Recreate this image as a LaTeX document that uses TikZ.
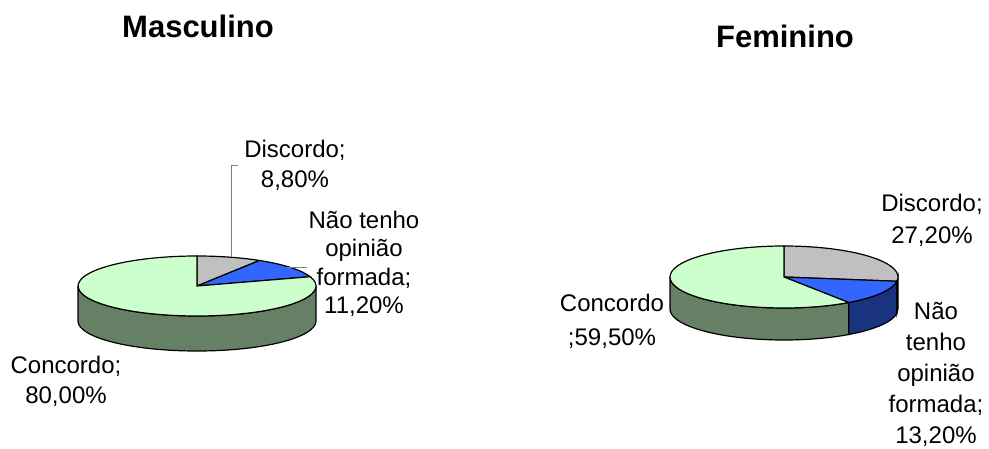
\documentclass[tikz,border=0pt]{standalone}
\usepackage{fontspec}
\setmainfont{Liberation Sans}
\usepackage{tikz}
\usetikzlibrary{calc}
\definecolor{topGreen}{HTML}{CCFFCC}
\definecolor{sideGreen}{HTML}{668066}
\definecolor{topBlue}{HTML}{3366FF}
\definecolor{sideBlue}{HTML}{1A3380}
\definecolor{topGray}{HTML}{C0C0C0}
\definecolor{sideGray}{HTML}{606060}

\begin{document}
\begin{tikzpicture}[x=1pt,y=1pt]
\def\cEdge{black}
\def\cLead{gray}
\def\lw{1.2pt}
\tikzset{lbl/.style={align=center,inner sep=0pt,font=\fontsize{24}{30}\selectfont},
         ttl/.style={anchor=base,inner sep=0pt,font=\fontsize{31}{36}\selectfont\bfseries}}
\useasboundingbox (0,0) rectangle (989,448);
% Masculino
\def\rx{119}
\def\ry{30}
\def\d{35}
\coordinate (LO) at (197,162);
\filldraw[fill=sideGreen, draw=\cEdge, line width=\lw] ($(LO)+({\rx*cos(180)},{\ry*sin(180)})$) arc[start angle=180, end angle=360, x radius=\rx pt, y radius=\ry pt] -- ++(0,-\d) arc[start angle=360, end angle=180, x radius=\rx pt, y radius=\ry pt] -- cycle;
\filldraw[fill=topGray, draw=\cEdge, line width=\lw] (LO) -- ($(LO)+({\rx*cos(90)},{\ry*sin(90)})$) arc[start angle=90, end angle=58.3, x radius=\rx pt, y radius=\ry pt] -- cycle;
\filldraw[fill=topBlue, draw=\cEdge, line width=\lw] (LO) -- ($(LO)+({\rx*cos(58.3)},{\ry*sin(58.3)})$) arc[start angle=58.3, end angle=18, x radius=\rx pt, y radius=\ry pt] -- cycle;
\filldraw[fill=topGreen, draw=\cEdge, line width=\lw] (LO) -- ($(LO)+({\rx*cos(18)},{\ry*sin(18)})$) arc[start angle=18, end angle=-270, x radius=\rx pt, y radius=\ry pt] -- cycle;
\node[ttl] (tA) at (198,410) {Masculino};
\node[lbl] (discA) at (295,283) {Discordo;\\8,80\%};
\node[lbl, font=\fontsize{24}{28.5}\selectfont] (naoA) at (364,184) {Não tenho\\opinião\\formada;\\11,20\%};
\node[lbl] (conA) at (66,67) {Concordo;\\80,00\%};
\coordinate (dA) at (238,283);
\coordinate (dAtip) at (231,191);
\draw[\cLead, line width=0.8pt] (dA) -| (dAtip);
\coordinate (nA) at (307,181);
\coordinate (nAtip) at (287,181);
\draw[\cLead, line width=0.8pt] (nA) -- (nAtip);
% Feminino
\def\rx{114}
\def\ry{31}
\def\d{32}
\coordinate (RO) at (784,171);
\filldraw[fill=sideGreen, draw=\cEdge, line width=\lw] ($(RO)+({\rx*cos(180)},{\ry*sin(180)})$) arc[start angle=180, end angle=304.6, x radius=\rx pt, y radius=\ry pt] -- ++(0,-\d) arc[start angle=304.6, end angle=180, x radius=\rx pt, y radius=\ry pt] -- cycle;
\filldraw[fill=sideBlue, draw=\cEdge, line width=\lw] ($(RO)+({\rx*cos(304.6)},{\ry*sin(304.6)})$) arc[start angle=304.6, end angle=352.1, x radius=\rx pt, y radius=\ry pt] -- ++(0,-\d) arc[start angle=352.1, end angle=304.6, x radius=\rx pt, y radius=\ry pt] -- cycle;
\filldraw[fill=sideGray, draw=\cEdge, line width=\lw] ($(RO)+({\rx*cos(352.1)},{\ry*sin(352.1)})$) arc[start angle=352.1, end angle=360, x radius=\rx pt, y radius=\ry pt] -- ++(0,-\d) arc[start angle=360, end angle=352.1, x radius=\rx pt, y radius=\ry pt] -- cycle;
\filldraw[fill=topGray, draw=\cEdge, line width=\lw] (RO) -- ($(RO)+({\rx*cos(90)},{\ry*sin(90)})$) arc[start angle=90, end angle=-7.9, x radius=\rx pt, y radius=\ry pt] -- cycle;
\filldraw[fill=topBlue, draw=\cEdge, line width=\lw] (RO) -- ($(RO)+({\rx*cos(-7.9)},{\ry*sin(-7.9)})$) arc[start angle=-7.9, end angle=-55.4, x radius=\rx pt, y radius=\ry pt] -- cycle;
\filldraw[fill=topGreen, draw=\cEdge, line width=\lw] (RO) -- ($(RO)+({\rx*cos(-55.4)},{\ry*sin(-55.4)})$) arc[start angle=-55.4, end angle=-270, x radius=\rx pt, y radius=\ry pt] -- cycle;
\node[ttl] (tB) at (785,400) {Feminino};
\node[lbl, font=\fontsize{24}{32}\selectfont] (discB) at (932,228) {Discordo;\\27,20\%};
\node[lbl, font=\fontsize{24}{34}\selectfont] (conB) at (612,127) {Concordo\\;59,50\%};
\node[lbl, font=\fontsize{24}{31}\selectfont] (naoB) at (936,74) {Não\\tenho\\opinião\\formada;\\13,20\%};
\end{tikzpicture}
\end{document}
